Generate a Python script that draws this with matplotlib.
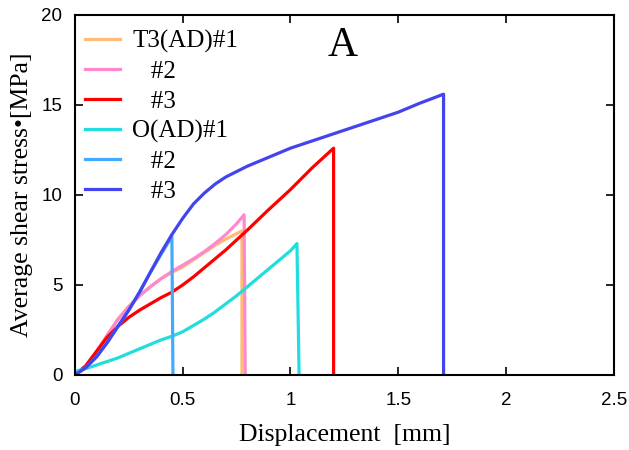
import matplotlib

matplotlib.use("Agg")
import matplotlib.pyplot as plt

# displacement [mm] / stress [MPa], each curve ends with its drop to zero
t3_1_x = [0, 0.05, 0.1, 0.15, 0.2, 0.25, 0.3, 0.35, 0.4, 0.45, 0.5, 0.55, 0.6,
          0.65, 0.7, 0.75, 0.775, 0.775]
t3_1_y = [0, 0.5, 1.3, 2.2, 3.1, 3.8, 4.4, 4.9, 5.35, 5.7, 6.0, 6.4, 6.8,
          7.2, 7.55, 7.85, 8.0, 0]
t3_2_x = [0, 0.05, 0.1, 0.15, 0.2, 0.25, 0.3, 0.35, 0.4, 0.45, 0.5, 0.55, 0.6,
          0.65, 0.7, 0.75, 0.785, 0.79]
t3_2_y = [0, 0.5, 1.3, 2.2, 3.1, 3.8, 4.4, 4.9, 5.35, 5.75, 6.1, 6.45, 6.85,
          7.3, 7.8, 8.4, 8.9, 0]
t3_3_x = [0, 0.05, 0.1, 0.15, 0.2, 0.25, 0.3, 0.35, 0.4, 0.45, 0.5, 0.55, 0.6,
          0.7, 0.8, 0.9, 1.0, 1.1, 1.2, 1.2]
t3_3_y = [0, 0.5, 1.3, 2.1, 2.7, 3.2, 3.6, 3.95, 4.3, 4.6, 5.0, 5.45, 5.95,
          6.95, 8.05, 9.2, 10.3, 11.5, 12.6, 0]
o_1_x = [0, 0.05, 0.1, 0.15, 0.2, 0.25, 0.3, 0.35, 0.4, 0.45, 0.5, 0.55, 0.6,
         0.65, 0.7, 0.75, 0.8, 0.85, 0.9, 0.95, 1.0, 1.03, 1.04]
o_1_y = [0.2, 0.35, 0.55, 0.75, 0.95, 1.2, 1.45, 1.7, 1.95, 2.15, 2.4, 2.75, 3.1,
         3.5, 3.95, 4.4, 4.9, 5.4, 5.9, 6.4, 6.9, 7.3, 0]
o_2_x = [0, 0.05, 0.1, 0.15, 0.2, 0.25, 0.3, 0.35, 0.4, 0.45, 0.455]
o_2_y = [0, 0.4, 1.0, 1.8, 2.7, 3.6, 4.6, 5.7, 6.7, 7.7, 0]
o_3_x = [0, 0.05, 0.1, 0.15, 0.2, 0.25, 0.3, 0.35, 0.4, 0.45, 0.5, 0.55, 0.6,
         0.65, 0.7, 0.8, 0.9, 1.0, 1.1, 1.2, 1.3, 1.4, 1.5, 1.6, 1.71, 1.71]
o_3_y = [0, 0.4, 1.0, 1.8, 2.7, 3.6, 4.6, 5.7, 6.8, 7.8, 8.7, 9.5, 10.1,
         10.6, 11.0, 11.6, 12.1, 12.6, 13.0, 13.4, 13.8, 14.2, 14.6, 15.1, 15.6, 0]

labels = ["T3(AD)#1", "   #2", "   #3", "O(AD)#1", "   #2", "   #3"]
colors = ["#ffbb77", "#ff88cc", "#ff0000", "#22dddd", "#44aaff", "#4444ee"]

fig = plt.figure(figsize=(6.29, 4.5), dpi=100)
ax = fig.add_axes([0.119, 0.1667, 0.857, 0.80])

series = [(t3_1_x, t3_1_y), (t3_2_x, t3_2_y), (t3_3_x, t3_3_y),
          (o_1_x, o_1_y), (o_2_x, o_2_y), (o_3_x, o_3_y)]
for (x, y), lab, c in zip(series, labels, colors):
    ax.plot(x, y, color=c, lw=2.3, label=lab)

ax.set_xlim(0, 2.5)
ax.set_ylim(0, 20)
ax.set_xticks([0, 0.5, 1, 1.5, 2, 2.5])
ax.set_xticklabels(["0", "0.5", "1", "1.5", "2", "2.5"])
ax.set_yticks([0, 5, 10, 15, 20])
ax.tick_params(direction="in", top=True, right=True, length=6, width=1.2,
               labelsize=13.5)
ax.tick_params(axis="x", pad=12)
ax.tick_params(axis="y", pad=9)
for lbl in ax.get_xticklabels() + ax.get_yticklabels():
    lbl.set_family("Liberation Sans")
for s in ax.spines.values():
    s.set_linewidth(1.5)

serif = "Liberation Serif"
ax.set_xlabel("Displacement  [mm]", family=serif, fontsize=18.5, labelpad=11)
ax.set_ylabel("Average shear stress•[MPa]", family=serif, fontsize=18.5, labelpad=6)
ax.text(1.24, 18.3, "A", family=serif, fontsize=30, ha="center", va="center")

leg = ax.legend(loc="upper left", bbox_to_anchor=(0.0, 0.985), frameon=False,
                prop={"family": serif, "size": 18},
                handlelength=1.4, labelspacing=0.29, borderaxespad=0.0,
                handletextpad=0.5)

fig.savefig("out.png")
